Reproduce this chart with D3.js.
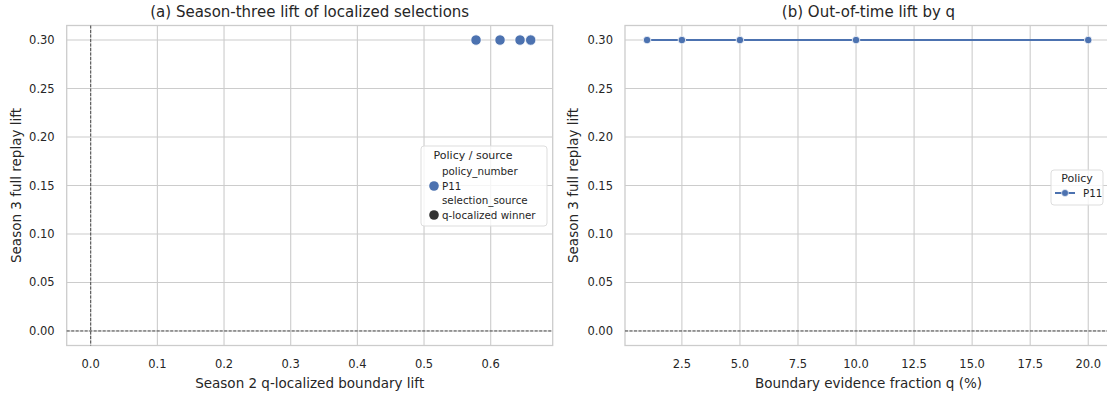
<!DOCTYPE html>
<html>
<head>
<meta charset="utf-8">
<script src="https://cdn.jsdelivr.net/npm/d3@7"></script>
<style>
  body { margin: 0; background: #fff; }
  text { font-family: "DejaVu Sans", sans-serif; fill: #262626; }
</style>
</head>
<body>
<div id="chart"></div>
<script>
// panel (a) data
const s2Lift = [0.578, 0.614, 0.644, 0.660];
const s3LiftA = [0.30, 0.30, 0.30, 0.30];
// panel (b) data
const qValues = [1, 2.5, 5, 10, 20];
const s3LiftB = [0.30, 0.30, 0.30, 0.30, 0.30];

const xTicksA = [0.0, 0.1, 0.2, 0.3, 0.4, 0.5, 0.6];
const xTicksB = [2.5, 5.0, 7.5, 10.0, 12.5, 15.0, 17.5, 20.0];
const yTicks = [0.00, 0.05, 0.10, 0.15, 0.20, 0.25, 0.30];

const blue = "#4c72b0",
  grid = "#cccccc",
  width = 1107,
  height = 398,
  plotTop = 25.5,
  plotBottom = 345.5;

const svg = d3.select("#chart").append("svg")
  .attr("width", width)
  .attr("height", height);

const y = d3.scaleLinear().domain([-0.015, 0.315]).range([plotBottom, plotTop]);

// draws frame, grid, ticks and labels for one panel
const drawPanel = (x, left, right, xTicks, xFmt, title, xLabel, yLabelX) => {
  const g = svg.append("g");
  xTicks.forEach(t => {
    g.append("line")
      .attr("x1", x(t)).attr("x2", x(t))
      .attr("y1", plotTop).attr("y2", plotBottom)
      .attr("stroke", grid).attr("stroke-width", 1.1);
    g.append("text")
      .attr("x", x(t)).attr("y", plotBottom + 22)
      .attr("text-anchor", "middle")
      .style("font-size", "11.5px")
      .text(xFmt(t));
  });
  yTicks.forEach(t => {
    g.append("line")
      .attr("x1", left).attr("x2", right)
      .attr("y1", y(t)).attr("y2", y(t))
      .attr("stroke", grid).attr("stroke-width", 1.1);
    g.append("text")
      .attr("x", left - 12).attr("y", y(t) + 4)
      .attr("text-anchor", "end")
      .style("font-size", "11.5px")
      .text(d3.format(".2f")(t));
  });
  g.append("rect")
    .attr("x", left).attr("y", plotTop)
    .attr("width", right - left).attr("height", plotBottom - plotTop)
    .attr("fill", "none").attr("stroke", grid).attr("stroke-width", 1.3);
  // zero line
  g.append("line")
    .attr("x1", left).attr("x2", right)
    .attr("y1", y(0)).attr("y2", y(0))
    .attr("stroke", "#262626").attr("stroke-width", 0.8)
    .attr("stroke-dasharray", "3,1.5");
  g.append("text")
    .attr("x", (left + right) / 2).attr("y", 17)
    .attr("text-anchor", "middle")
    .style("font-size", "15px")
    .text(title);
  g.append("text")
    .attr("x", (left + right) / 2).attr("y", 388)
    .attr("text-anchor", "middle")
    .style("font-size", "13.5px")
    .text(xLabel);
  g.append("text")
    .attr("transform", `translate(${yLabelX},${(plotTop + plotBottom) / 2}) rotate(-90)`)
    .attr("text-anchor", "middle")
    .style("font-size", "13.5px")
    .text("Season 3 full replay lift");
  return g;
};

// ---- panel (a)
const xA = d3.scaleLinear().domain([-0.036, 0.693]).range([66.7, 552.7]);
const gA = drawPanel(xA, 66.7, 552.7, xTicksA, d3.format(".1f"),
  "(a) Season-three lift of localized selections",
  "Season 2 q-localized boundary lift", 21);

gA.append("line")
  .attr("x1", xA(0)).attr("x2", xA(0))
  .attr("y1", plotTop).attr("y2", plotBottom)
  .attr("stroke", "#262626").attr("stroke-width", 0.8)
  .attr("stroke-dasharray", "3,1.5");

gA.selectAll("circle.pt")
  .data(s2Lift)
  .join("circle")
  .attr("class", "pt")
  .attr("cx", d => xA(d))
  .attr("cy", (d, i) => y(s3LiftA[i]))
  .attr("r", 5.2)
  .attr("fill", blue)
  .attr("stroke", "#fff").attr("stroke-width", 0.8);

// legend (a)
const lgA = gA.append("g").attr("transform", "translate(421,146)");
lgA.append("rect")
  .attr("width", 126).attr("height", 80).attr("rx", 3)
  .attr("fill", "#fff").attr("fill-opacity", 0.8)
  .attr("stroke", "#dddddd");
lgA.append("text").attr("x", 52).attr("y", 13)
  .attr("text-anchor", "middle").style("font-size", "11px").text("Policy / source");
lgA.append("text").attr("x", 21).attr("y", 29).style("font-size", "10.3px").text("policy_number");
lgA.append("circle").attr("cx", 13).attr("cy", 40).attr("r", 4.8).attr("fill", blue);
lgA.append("text").attr("x", 21).attr("y", 44).style("font-size", "10.3px").text("P11");
lgA.append("text").attr("x", 21).attr("y", 58).style("font-size", "10.3px").text("selection_source");
lgA.append("circle").attr("cx", 13).attr("cy", 69).attr("r", 4.8).attr("fill", "#333333");
lgA.append("text").attr("x", 21).attr("y", 73).style("font-size", "10.3px").text("q-localized winner");

// ---- panel (b)
const xB = d3.scaleLinear().domain([0.05, 20.95]).range([625, 625 + 20.9 * 23.22]);
const gB = drawPanel(xB, 625, 1112, xTicksB, d3.format(".1f"),
  "(b) Out-of-time lift by q",
  "Boundary evidence fraction q (%)", 578);

const line = d3.line().x((d, i) => xB(d)).y((d, i) => y(s3LiftB[i]));
gB.append("path")
  .attr("d", line(qValues))
  .attr("fill", "none").attr("stroke", blue).attr("stroke-width", 2);
gB.selectAll("circle.pt")
  .data(qValues)
  .join("circle")
  .attr("class", "pt")
  .attr("cx", d => xB(d))
  .attr("cy", (d, i) => y(s3LiftB[i]))
  .attr("r", 3.8)
  .attr("fill", blue)
  .attr("stroke", "#fff").attr("stroke-width", 0.8);

// legend (b)
const lgB = gB.append("g").attr("transform", "translate(1051,170)");
lgB.append("rect")
  .attr("width", 52).attr("height", 35).attr("rx", 3)
  .attr("fill", "#fff").attr("fill-opacity", 0.8)
  .attr("stroke", "#dddddd");
lgB.append("text").attr("x", 26).attr("y", 12)
  .attr("text-anchor", "middle").style("font-size", "11px").text("Policy");
lgB.append("line").attr("x1", 4).attr("x2", 24).attr("y1", 23).attr("y2", 23)
  .attr("stroke", blue).attr("stroke-width", 2);
lgB.append("circle").attr("cx", 14).attr("cy", 23).attr("r", 3.5).attr("fill", blue)
  .attr("stroke", "#fff").attr("stroke-width", 0.6);
lgB.append("text").attr("x", 32).attr("y", 27).style("font-size", "10.3px").text("P11");
</script>
</body>
</html>
